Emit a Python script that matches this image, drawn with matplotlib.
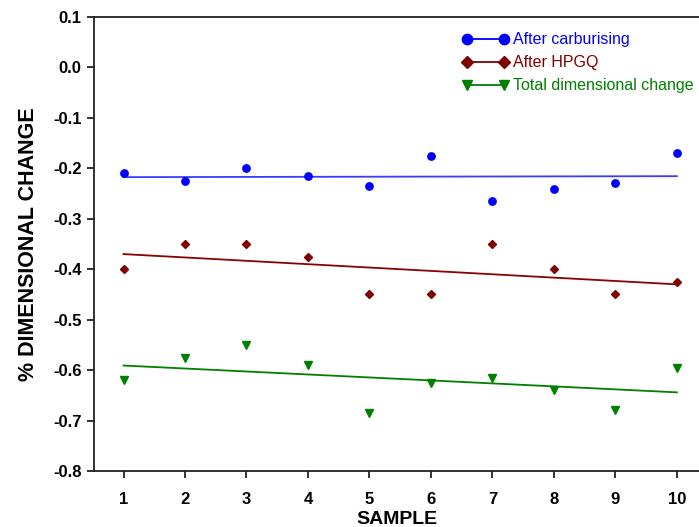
import numpy as np
import matplotlib
matplotlib.use("Agg")
import matplotlib.pyplot as plt

samples = np.arange(1, 11)
after_carburising = [-0.21, -0.225, -0.20, -0.215, -0.235, -0.175, -0.265, -0.24, -0.23, -0.17]
after_hpgq = [-0.40, -0.35, -0.35, -0.375, -0.45, -0.45, -0.35, -0.40, -0.45, -0.425]
total_change = [-0.62, -0.575, -0.55, -0.59, -0.685, -0.625, -0.615, -0.64, -0.68, -0.595]
y_ticks = [-0.8, -0.7, -0.6, -0.5, -0.4, -0.3, -0.2, -0.1, 0.0, 0.1]
y_tick_labels = ["-0.8", "-0.7", "-0.6", "-0.5", "-0.4", "-0.3", "-0.2", "-0.1", "0.0", "0.1"]

series = [
    ("After carburising", after_carburising, "o", "#0000ff", "#3b3bff", 5.3),
    ("After HPGQ", after_hpgq, "D", "#800000", "#8b0000", 4.4),
    ("Total dimensional change", total_change, "v", "#008000", "#008000", 5.2),
]

plt.rcParams['font.family'] = ['Liberation Sans', 'DejaVu Sans']

fig = plt.figure(figsize=(6.99, 5.27), dpi=100)
ax = fig.add_axes([94/699, 1-471/527, 1-94/699, (471-17)/527])

handles = []
for name, vals, mk, mc, lc, ms in series:
    vals = np.array(vals)
    ax.plot(samples, vals, linestyle='none', marker=mk, color=mc, markersize=ms, zorder=3)
    coef = np.polyfit(samples, vals, 1)
    fit = np.polyval(coef, samples)
    ax.plot(samples, fit, color=lc, linewidth=1.3, zorder=2)
    h, = ax.plot([], [], marker=mk, color=mc, markersize=ms*1.4, linewidth=1.3,
                 markerfacecolor=mc, label=name)
    handles.append(h)

ax.set_xlim(0.52, 10.36)
ax.set_ylim(-0.8, 0.1)
ax.set_xticks(samples)
ax.set_yticks(y_ticks)
ax.set_yticklabels(y_tick_labels)
for lbl in ax.get_xticklabels() + ax.get_yticklabels():
    lbl.set_fontweight('bold')
    lbl.set_fontsize(12)
ax.tick_params(direction='out', length=5, width=1.3, color='#222222')
ax.tick_params(axis='x', pad=10)
ax.tick_params(axis='y', pad=4)
ax.spines['right'].set_visible(False)
for s in ['left', 'bottom', 'top']:
    ax.spines[s].set_linewidth(1.3)
    ax.spines[s].set_color('#222222')

ax.set_xlabel('SAMPLE', fontsize=14, fontweight='bold', labelpad=3)
ax.set_ylabel('% DIMENSIONAL CHANGE', fontsize=15.5, fontweight='bold', labelpad=10)

leg = ax.legend(handles=handles, loc='upper left', bbox_to_anchor=(0.585, 0.998),
                frameon=False, numpoints=2, handlelength=2.9, handletextpad=0.3,
                labelspacing=0.5, fontsize=11.5)
for txt, (_, _, _, mc, _, _) in zip(leg.get_texts(), series):
    txt.set_color(mc)

fig.savefig('out.png', dpi=100)
